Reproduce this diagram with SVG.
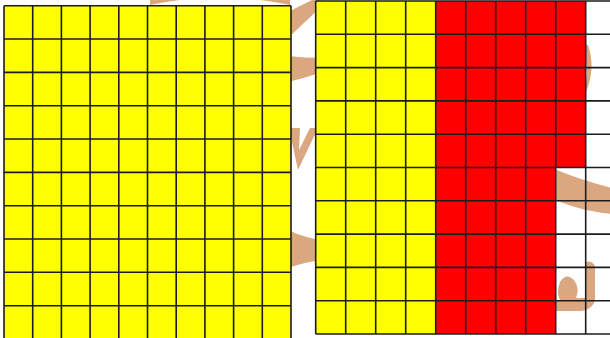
<svg xmlns="http://www.w3.org/2000/svg" width="610" height="338" viewBox="0 0 610 338">
<style>
.wm{fill:#dba780;stroke:none}
.grid{fill:none;stroke:#1c1c1c;stroke-width:1.6}
.y{fill:#ffff00}
.r{fill:#ff0000}
.w{fill:#ffffff}
</style>
<rect width="610" height="338" fill="#ffffff"/>
<g id="watermark">
<path class="wm" d="M150,5 Q220,-10 290,5 L290,0 L150,0 Z"/>
<path class="wm" d="M288,12 L320,-4 L322,6 L288,38 Z"/>
<path class="wm" d="M288,56 Q305,58 322,58 L322,72 Q305,78 288,82 Z"/>
<path class="wm" d="M289,128 L300,128 L299,150 L310,128 L318,128 L298,170 Z"/>
<path class="wm" d="M288,230 Q305,238 322,240 L322,260 Q305,262 288,268 Z"/>
<path class="wm" d="M578,45 Q594,68 582,92 L586,92 Q596,68 588,45 Z"/>
<path class="wm" d="M552,168 Q580,180 612,188 L612,214 Q575,210 552,198 Z"/>
<path class="wm" d="M586,262 Q592,260 595,266 L595,300 Q592,312 575,311 L552,311 L552,300 L560,300 Q556,292 560,282 Q566,272 574,280 Q580,288 576,298 L586,298 Z"/>
</g>
<g id="grid-left">
<rect class="y" x="4" y="5.7" width="287" height="333.3"/>
<path class="grid" d="M4,5.7V339M32.7,5.7V339M61.4,5.7V339M90.1,5.7V339M118.8,5.7V339M147.5,5.7V339M176.2,5.7V339M204.9,5.7V339M233.6,5.7V339M262.3,5.7V339M291,5.7V339M4,5.7H291M4,39H291M4,72.4H291M4,105.7H291M4,139H291M4,172.4H291M4,205.7H291M4,239H291M4,272.3H291M4,305.7H291M4,339H291"/>
</g>
<g id="grid-right">
<rect class="y" x="315.7" y="1" width="120" height="333"/>
<rect class="r" x="435.7" y="1" width="150" height="166.5"/>
<rect class="r" x="435.7" y="167.5" width="120" height="166.5"/>
<path class="grid" d="M315.7,1V334M345.7,1V334M375.7,1V334M405.7,1V334M435.7,1V334M465.7,1V334M495.7,1V334M525.7,1V334M555.7,1V334M585.7,1V334M315.7,1H616M315.7,34.3H616M315.7,67.6H616M315.7,100.9H616M315.7,134.2H616M315.7,167.5H616M315.7,200.8H616M315.7,234.1H616M315.7,267.4H616M315.7,300.7H616M315.7,334H616"/>
</g>
</svg>
